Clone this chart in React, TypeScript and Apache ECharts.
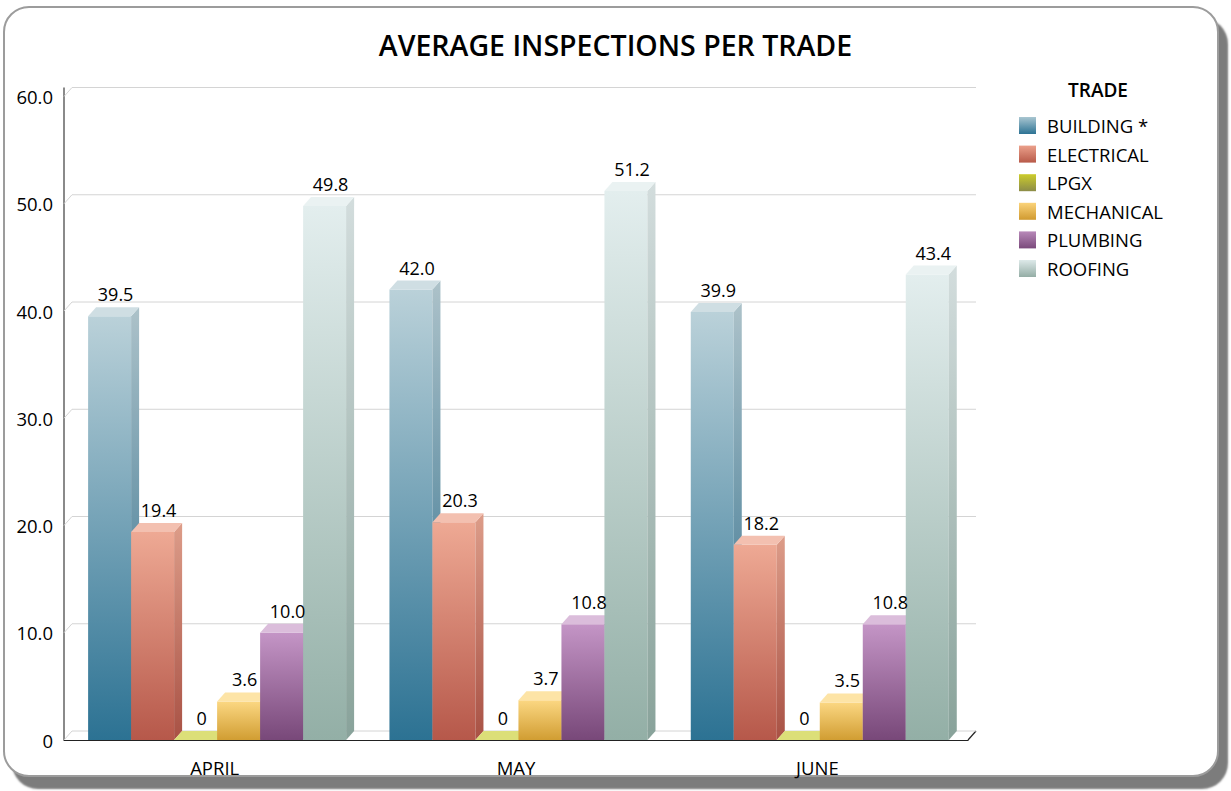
import React, { useEffect, useRef } from "react";
import * as echarts from "echarts";

const months = ["APRIL", "MAY", "JUNE"];
const trades = ["BUILDING *", "ELECTRICAL", "LPGX", "MECHANICAL", "PLUMBING", "ROOFING"];
const building = [39.5, 42.0, 39.9];
const electrical = [19.4, 20.3, 18.2];
const lpgx = [0, 0, 0];
const mechanical = [3.6, 3.7, 3.5];
const plumbing = [10.0, 10.8, 10.8];
const roofing = [49.8, 51.2, 43.4];
const seriesValues = [building, electrical, lpgx, mechanical, plumbing, roofing];
const yTicks = [0, 10, 20, 30, 40, 50, 60];

// [light top, dark bottom, top face]
const palette = [
  ["#bad1d9", "#2c7293", "#cfdee3"],
  ["#eea994", "#b6584a", "#f3c0b0"],
  ["#dcdf78", "#9a9b3c", "#d8db70"],
  ["#fbd782", "#d19d32", "#fde4a6"],
  ["#c495c6", "#784879", "#dbbddb"],
  ["#e3eeee", "#93afa6", "#eaf2f2"],
];
const legendPalette = [
  ["#a9c6d1", "#2d7394"],
  ["#eba08b", "#b85a49"],
  ["#cccc2c", "#8c8c48"],
  ["#fbd37a", "#d09a30"],
  ["#b889b9", "#7a4a7b"],
  ["#dde9e9", "#94ada5"],
];

const FONT = '"Open Sans", "Noto Sans", sans-serif';
const DX = 8;
const DY = 9;
const GROUP_OFFSET = 0.08;
const BAR_RATIO = 0.1427;

function fmt(v: number) {
  return v === 0 ? "0" : v.toFixed(1);
}

function grad(c1: string, c2: string) {
  return new echarts.graphic.LinearGradient(0, 0, 0, 1, [
    { offset: 0, color: c1 },
    { offset: 1, color: c2 },
  ]);
}

function barGeom(api: any, c: number, v: number, i: number) {
  const base = api.coord([c, 0]);
  const topPt = api.coord([c, v]);
  const bw = api.size([1, 0])[0];
  const start = base[0] - bw / 2;
  const w = bw * BAR_RATIO;
  const x0 = start + bw * GROUP_OFFSET + i * w;
  return { x0, w, y0: base[1], y1: topPt[1] };
}

export default function App() {
  const ref = useRef<HTMLDivElement>(null);
  useEffect(() => {
    if (!ref.current) return;
    const chart = echarts.init(ref.current, null, { renderer: "svg" });

    const frameSeries = {
      type: "custom",
      name: "frame",
      z: 1,
      silent: true,
      data: yTicks.map((v) => [0, v]),
      encode: { x: 0, y: 1 },
      renderItem: (params: any, api: any) => {
        const cs = params.coordSys;
        const L = cs.x;
        const R = cs.x + cs.width;
        const v = api.value(1);
        const y = api.coord([0, v])[1];
        const children: any[] = [];
        if (v === 0) {
          children.push({
            type: "polygon",
            shape: { points: [[L, y], [R, y], [R + DX, y - DY], [L + DX, y - DY]] },
            style: { fill: "#ffffff", stroke: null },
          });
          children.push({
            type: "line",
            shape: { x1: R, y1: y, x2: R + DX, y2: y - DY },
            style: { stroke: "#222", lineWidth: 1.2 },
          });
          children.push({
            type: "line",
            shape: { x1: L, y1: cs.y - DY, x2: L, y2: y },
            style: { stroke: "#8a8a8a", lineWidth: 2 },
          });
        }
        children.push({
          type: "line",
          shape: { x1: L + DX, y1: y - DY, x2: R + DX, y2: y - DY },
          style: { stroke: "#d4d4d4", lineWidth: 1 },
        });
        children.push({
          type: "line",
          shape: { x1: L, y1: y, x2: L + DX, y2: y - DY },
          style: { stroke: "#d4d4d4", lineWidth: 1 },
        });
        return { type: "group", children };
      },
    };

    const barSeries = seriesValues.map((vals, i) => ({
      type: "custom",
      name: trades[i],
      z: 2,
      itemStyle: { color: grad(legendPalette[i][0], legendPalette[i][1]) },
      data: vals.map((v, c) => [c, v]),
      encode: { x: 0, y: 1 },
      renderItem: (params: any, api: any) => {
        const c = api.value(0);
        const v = api.value(1);
        const { x0, w, y0, y1 } = barGeom(api, c, v, i);
        const [light, dark, topc] = palette[i];
        const children: any[] = [];
        if (y0 - y1 > 0.5) {
          children.push({
            type: "rect",
            shape: { x: x0, y: y1, width: w, height: y0 - y1 },
            style: { fill: grad(light, dark) },
          });
          children.push({
            type: "polygon",
            shape: { points: [[x0 + w, y1], [x0 + w + DX, y1 - DY], [x0 + w + DX, y0 - DY], [x0 + w, y0]] },
            style: { fill: grad(light, dark) },
          });
          children.push({
            type: "polygon",
            shape: { points: [[x0 + w, y1], [x0 + w + DX, y1 - DY], [x0 + w + DX, y0 - DY], [x0 + w, y0]] },
            style: { fill: "rgba(0,0,0,0.07)" },
          });
        }
        children.push({
          type: "polygon",
          shape: { points: [[x0, y1], [x0 + DX, y1 - DY], [x0 + w + DX, y1 - DY], [x0 + w, y1]] },
          style: { fill: v === 0 ? light : topc },
        });
        return { type: "group", children };
      },
    }));

    const labelData: number[][] = [];
    seriesValues.forEach((vals, i) => vals.forEach((v, c) => labelData.push([c, v, i])));
    const labelSeries = {
      type: "custom",
      name: "labels",
      z: 5,
      silent: true,
      data: labelData,
      encode: { x: 0, y: 1 },
      renderItem: (params: any, api: any) => {
        const c = api.value(0);
        const v = api.value(1);
        const i = api.value(2);
        const { x0, w, y1 } = barGeom(api, c, v, i);
        return {
          type: "text",
          x: x0 + w / 2 + 6,
          y: y1 - DY - 4,
          style: {
            text: fmt(v),
            fontSize: 18,
            fontFamily: FONT,
            fill: "#000",
            align: "center",
            verticalAlign: "bottom",
          },
        };
      },
    };

    chart.setOption({
      animation: false,
      title: {
        text: "AVERAGE INSPECTIONS PER TRADE",
        left: "center",
        top: 25,
        textStyle: { fontSize: 28.5, fontWeight: 600, fontFamily: FONT, color: "#000" },
      },
      legend: {
        data: trades,
        orient: "vertical",
        left: 1014,
        top: 111,
        icon: "rect",
        itemWidth: 17,
        itemHeight: 17,
        itemGap: 9.6,
        textStyle: { fontSize: 18.5, lineHeight: 17, fontFamily: FONT, color: "#000", padding: [0, 0, 0, 6] },
      },
      graphic: [
        {
          type: "text",
          x: 1098,
          y: 90,
          style: {
            text: "TRADE",
            fontSize: 19,
            fontWeight: 600,
            fontFamily: FONT,
            fill: "#000",
            align: "center",
            verticalAlign: "middle",
          },
        },
      ],
      grid: { left: 64, right: 263, top: 96.5, bottom: 51 },
      xAxis: {
        type: "category",
        data: months,
        axisLine: { lineStyle: { color: "#222", width: 1.2 } },
        axisTick: { show: false },
        axisLabel: { fontSize: 18.5, fontFamily: FONT, color: "#000", margin: 18 },
        splitLine: { show: false },
      },
      yAxis: {
        type: "value",
        min: 0,
        max: 60,
        interval: 10,
        axisLine: { show: false },
        axisTick: { show: false },
        splitLine: { show: false },
        axisLabel: {
          fontSize: 18.5,
          fontFamily: FONT,
          color: "#000",
          margin: 11,
          formatter: (v: number) => fmt(v),
        },
      },
      series: [frameSeries, ...barSeries, labelSeries],
    });
    return () => chart.dispose();
  }, []);

  return (
    <div style={{ position: "fixed", left: 0, top: 0, width: 1231, height: 791, background: "#fff", overflow: "hidden" }}>
      <div
        style={{
          position: "absolute",
          left: 3,
          top: 6,
          width: 1216,
          height: 771,
          boxSizing: "border-box",
          borderRadius: 26,
          border: "2px solid #9c9c9c",
          boxShadow: "9px 12px 2px #7c7c7c",
          background: "#fff",
        }}
      />
      <div ref={ref} style={{ position: "absolute", left: 0, top: 0, width: 1231, height: 791 }} />
    </div>
  );
}
